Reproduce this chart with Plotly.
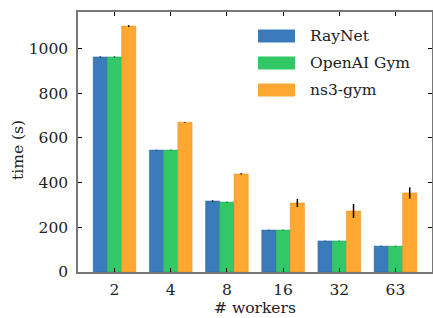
import plotly.graph_objects as go

workers = ["2", "4", "8", "16", "32", "63"]
series_names = ["RayNet", "OpenAI Gym", "ns3-gym"]
raynet = [963, 546, 318, 188, 139, 116]
openai_gym = [963, 546, 313, 188, 139, 116]
ns3_gym = [1101, 670, 439, 309, 273, 354]
raynet_err = [2, 1, 3, 1, 1, 1]
openai_err = [2, 1, 1, 1, 1, 1]
ns3_err = [4, 2, 3, 18, 31, 25]
y_ticks = [0, 200, 400, 600, 800, 1000]

colors = ["#3a7cb9", "#33c866", "#fea731"]
edges = ["#2f6aa0", "#26a854", "#e09020"]
values = [raynet, openai_gym, ns3_gym]
errs = [raynet_err, openai_err, ns3_err]

FONT = "DejaVu Serif"
FS = 15.5
fig = go.Figure()
for name, v, e, c, ec in zip(series_names, values, errs, colors, edges):
    fig.add_trace(go.Bar(
        x=workers, y=v, name=name,
        marker=dict(color=c, line=dict(color=ec, width=0.5)),
        error_y=dict(type="data", array=e, visible=True, color="black", thickness=1.5, width=0),
        showlegend=False,
    ))

# manual legend (large patches like the reference)
L, R, T, B = 78, 432, 12, 272
def px(x):
    return (x - L) / (R - L)
def py(y):
    return (B - y) / (B - T)
for i, (name, c) in enumerate(zip(series_names, colors)):
    cy = 36 + 27 * i
    fig.add_shape(type="rect", xref="paper", yref="paper",
                  x0=px(258), x1=px(295), y0=py(cy + 6.5), y1=py(cy - 6.5),
                  fillcolor=c, line=dict(width=0))
    fig.add_annotation(xref="paper", yref="paper", x=px(308), y=py(cy),
                       text=name, showarrow=False, xanchor="left", yanchor="middle",
                       font=dict(family=FONT, size=FS, color="#222"))

axis_common = dict(showline=True, linecolor="#777", linewidth=1.5, mirror="allticks",
                   ticks="inside", ticklen=4, tickcolor="black", tickwidth=1,
                   showgrid=False, zeroline=False, automargin=False,
                   tickfont=dict(family=FONT, size=FS, color="#222"))
fig.update_layout(
    width=433, height=318,
    margin=dict(l=L, r=433 - R, t=T, b=318 - B),
    paper_bgcolor="white", plot_bgcolor="white",
    barmode="group", bargap=0.24, bargroupgap=0,
    font=dict(family=FONT, size=FS, color="#222"),
    xaxis=dict(range=[-0.65, 5.65], ticklabelstandoff=3, **axis_common),
    yaxis=dict(range=[0, 1164], tickvals=y_ticks, ticklabelstandoff=5, **axis_common),
)
fig.add_annotation(xref="paper", yref="paper", x=0.5, y=py(308), text="# workers",
                   showarrow=False, xanchor="center", yanchor="middle",
                   font=dict(family=FONT, size=FS, color="#222"))
fig.add_annotation(xref="paper", yref="paper", x=px(18), y=py(150), text="time (s)",
                   textangle=-90, showarrow=False, xanchor="center", yanchor="middle",
                   font=dict(family=FONT, size=FS, color="#222"))
fig.write_html("out.html", config={"displayModeBar": False},
               post_script="document.body.style.margin='0';")
